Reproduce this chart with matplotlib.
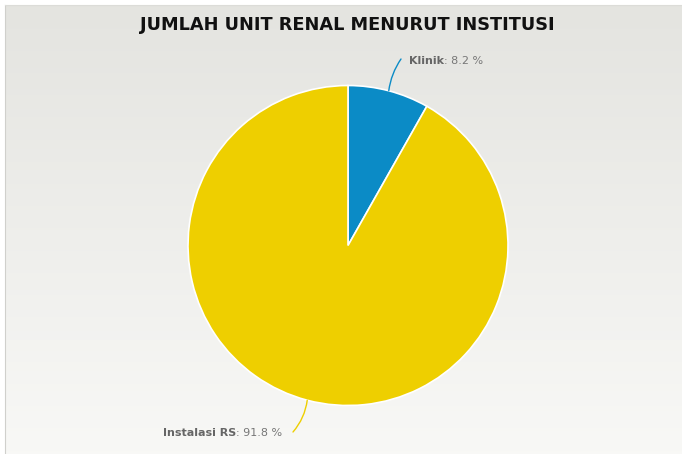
import numpy as np
import matplotlib.pyplot as plt

plt.rcParams['font.family'] = ['DejaVu Sans']

# share of renal units by institution type
labels = ['Klinik', 'Instalasi RS']
shares = [8.2, 91.8]
colors = ['#0b8bc6', '#eecf00']

W, H = 682, 454
fig = plt.figure(figsize=(W / 100, H / 100), dpi=100)
fig.patch.set_facecolor('white')

# panel background: soft vertical gradient with a thin border
bg = fig.add_axes([5 / W, 0, (W - 5) / W, (H - 5) / H])
grad = np.linspace(0, 1, 256).reshape(-1, 1)
top = np.array([0.894, 0.894, 0.878])
bottom = np.array([0.973, 0.973, 0.965])
img = top + (bottom - top) * grad[:, :, None]
bg.imshow(img, aspect='auto', extent=[0, 1, 0, 1], origin='upper')
bg.set_xticks([])
bg.set_yticks([])
for side in ['right', 'bottom']:
    bg.spines[side].set_visible(False)
bg.spines['left'].set_color('#d0d0cc')
bg.spines['top'].set_color('#dcdcd8')

# drawing axes in pixel units (y measured from the bottom)
ax = fig.add_axes([0, 0, 1, 1])
ax.patch.set_alpha(0)

cx, cy, r = 348, H - 245.5, 160
wedges, _ = ax.pie(shares, colors=colors, startangle=90, counterclock=False,
                   center=(cx, cy), radius=r,
                   wedgeprops=dict(edgecolor='white', linewidth=1.2))
# pie() resets the limits, so set the pixel frame afterwards
ax.set_xlim(0, W)
ax.set_ylim(0, H)
ax.set_aspect('auto')
ax.axis('off')

fig.text(347 / W, 1 - 25 / H, 'JUMLAH UNIT RENAL MENURUT INSTITUSI',
         ha='center', va='center', fontsize=12.8, fontweight='bold', color='#111111')

# connectors and labels for each slice
label_pos = [(401, H - 59), (293, H - 432)]
rads = [0.12, 0.15]
for w, lab, val, col, (lx, ly), rad in zip(wedges, labels, shares, colors, label_pos, rads):
    ang = np.deg2rad((w.theta1 + w.theta2) / 2)
    ex, ey = cx + r * np.cos(ang), cy + r * np.sin(ang)
    ax.annotate('', xy=(ex, ey), xytext=(lx, ly),
                arrowprops=dict(arrowstyle='-', color=col, lw=1,
                                connectionstyle='arc3,rad=%s' % rad,
                                shrinkA=0, shrinkB=0))

fig.canvas.draw()
renderer = fig.canvas.get_renderer()
inv = ax.transData.inverted()

# Klinik label, left aligned after the connector
t1 = ax.text(409, H - 61.5, 'Klinik', ha='left', va='center', fontsize=8,
             fontweight='bold', color='#666666')
bb = t1.get_window_extent(renderer)
x1 = inv.transform((bb.x1, 0))[0]
ax.text(x1, H - 61.5, ': %.1f %%' % shares[0], ha='left', va='center',
        fontsize=8, color='#777777')

# Instalasi RS label, right aligned before the connector
t2 = ax.text(282, H - 433, ': %.1f %%' % shares[1], ha='right', va='center',
             fontsize=8, color='#777777')
bb = t2.get_window_extent(renderer)
x0 = inv.transform((bb.x0, 0))[0]
ax.text(x0, H - 433, 'Instalasi RS', ha='right', va='center', fontsize=8,
        fontweight='bold', color='#666666')

fig.savefig('out.png', dpi=100)
